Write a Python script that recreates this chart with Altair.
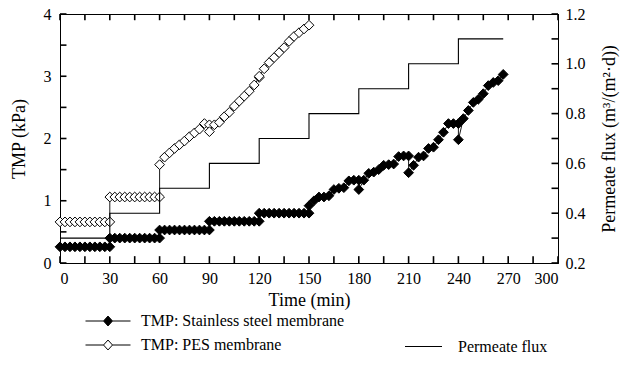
import altair as alt
import pandas as pd

FONT = "Liberation Serif"
W, H = 498, 249

# ---------------- data ----------------
steel_time = [0, 3, 6, 9, 12, 15, 18, 21, 24, 27, 30,
              30, 33, 36, 39, 42, 45, 48, 51, 54, 57, 60,
              60, 63, 66, 69, 72, 75, 78, 81, 84, 87, 90,
              90, 93, 96, 99, 102, 105, 108, 111, 114, 117, 120,
              120, 123, 126, 129, 132, 135, 138, 141, 144, 147, 150,
              150, 153, 156, 159, 162, 165, 168, 171, 174, 177, 180,
              180, 183, 186, 189, 192, 195, 198, 201, 204, 207, 210,
              210, 213, 216, 219, 222, 225, 228, 231, 234, 237, 240,
              240, 243, 246, 249, 252, 255, 258, 261, 264, 267]
steel_tmp = [0.26, 0.26, 0.26, 0.26, 0.26, 0.26, 0.26, 0.26, 0.26, 0.26, 0.26,
             0.40, 0.40, 0.40, 0.40, 0.40, 0.40, 0.40, 0.40, 0.40, 0.40, 0.40,
             0.53, 0.53, 0.53, 0.53, 0.53, 0.53, 0.53, 0.53, 0.53, 0.53, 0.53,
             0.67, 0.67, 0.67, 0.67, 0.67, 0.67, 0.67, 0.67, 0.67, 0.67, 0.67,
             0.80, 0.80, 0.80, 0.80, 0.80, 0.80, 0.80, 0.80, 0.80, 0.80, 0.80,
             0.92, 1.00, 1.06, 1.06, 1.08, 1.18, 1.20, 1.21, 1.32, 1.33, 1.33,
             1.18, 1.33, 1.44, 1.46, 1.50, 1.57, 1.58, 1.59, 1.71, 1.72, 1.72,
             1.45, 1.57, 1.70, 1.72, 1.84, 1.86, 1.98, 2.10, 2.24, 2.24, 2.24,
             1.98, 2.32, 2.45, 2.58, 2.63, 2.72, 2.85, 2.90, 2.93, 3.03]

pes_time = [0, 3, 6, 9, 12, 15, 18, 21, 24, 27, 30,
            30, 33, 36, 39, 42, 45, 48, 51, 54, 57, 60,
            60, 63, 66, 69, 72, 75, 78, 81, 84, 87, 90,
            90, 93, 96, 99, 102, 105, 108, 111, 114, 117, 120,
            120, 123, 126, 129, 132, 135, 138, 141, 144, 147, 150]
pes_tmp = [0.66, 0.66, 0.66, 0.66, 0.66, 0.66, 0.66, 0.66, 0.66, 0.66, 0.66,
           1.06, 1.06, 1.06, 1.06, 1.06, 1.06, 1.06, 1.06, 1.06, 1.06, 1.06,
           1.58, 1.70, 1.77, 1.84, 1.90, 1.96, 2.03, 2.09, 2.15, 2.24, 2.22,
           2.11, 2.22, 2.26, 2.35, 2.42, 2.52, 2.60, 2.68, 2.76, 2.86, 2.98,
           3.00, 3.12, 3.22, 3.30, 3.38, 3.46, 3.56, 3.64, 3.70, 3.76, 3.82]

flux_time = [0, 30, 60, 90, 120, 150, 180, 210, 240, 267]
flux_value = [0.3, 0.4, 0.5, 0.6, 0.7, 0.8, 0.9, 1.0, 1.1, 1.1]

series_names = ["TMP: Stainless steel membrane", "TMP: PES membrane"]
flux_name = "Permeate flux"

x_ticks = [0, 15, 30, 45, 60, 75, 90, 105, 120, 135, 150, 165, 180, 195, 210,
           225, 240, 255, 270, 285, 300]
x_labels = [0, 30, 60, 90, 120, 150, 180, 210, 240, 270, 300]
tmp_ticks = [0, 0.5, 1, 1.5, 2, 2.5, 3, 3.5, 4]
tmp_labels = [0, 1, 2, 3, 4]
flux_ticks = [0.2, 0.3, 0.4, 0.5, 0.6, 0.7, 0.8, 0.9, 1.0, 1.1, 1.2]
flux_labels = [0.2, 0.4, 0.6, 0.8, 1.0, 1.2]

# ---------------- frames ----------------
rows = []
for i, (t, v) in enumerate(zip(steel_time, steel_tmp)):
    rows.append({"t": t, "v": v, "series": series_names[0], "idx": i})
for i, (t, v) in enumerate(zip(pes_time, pes_tmp)):
    rows.append({"t": t, "v": v, "series": series_names[1], "idx": i})
tmp_df = pd.DataFrame(rows)
flux_df = pd.DataFrame({"t": flux_time, "f": flux_value,
                        "label": [flux_name] * len(flux_time)})
# tick-mark frames: tick positions from the lists above, short inward extents
xt_df = pd.DataFrame({"t": x_ticks,
                      "ya": [0.0] * len(x_ticks), "yb": [0.11] * len(x_ticks),
                      "yc": [4.0] * len(x_ticks), "yd": [3.9] * len(x_ticks)})
tt_df = pd.DataFrame({"v": tmp_ticks, "xa": [0.0] * len(tmp_ticks),
                      "xb": [3.9] * len(tmp_ticks)})
ft_df = pd.DataFrame({"f": flux_ticks, "xa": [300.0] * len(flux_ticks),
                      "xb": [296.1] * len(flux_ticks)})

x_scale = alt.Scale(domain=[0, 300], nice=False, zero=False)
y_scale = alt.Scale(domain=[0, 4], nice=False)
yf_scale = alt.Scale(domain=[0.2, 1.2], nice=False, zero=False)

base_axis = dict(labelFont=FONT, labelFontSize=16, labelColor="black",
                 titleFont=FONT, titleFontSize=18, titleFontWeight="normal",
                 titleColor="black", domainColor="black", domainWidth=1,
                 ticks=False, grid=False)

x_bottom = alt.Axis(orient="bottom", values=x_labels, title="Time (min)",
                    labelPadding=7, titlePadding=5, labelAngle=0, **base_axis)
y_left = alt.Axis(orient="left", values=tmp_labels, title="TMP (kPa)",
                  format=".0f", labelPadding=9, titlePadding=15, **base_axis)
y_right = alt.Axis(orient="right", values=flux_labels,
                   title="Permeate flux (m\u00b3/(m\u00b2\u00b7d))", format=".1f",
                   labelPadding=7, titlePadding=15, titleAngle=270,
                   titleBaseline="top", **base_axis)

tmp_lines = alt.Chart(tmp_df).mark_line(color="black", strokeWidth=0.9).encode(
    x=alt.X("t:Q", scale=x_scale, axis=x_bottom),
    y=alt.Y("v:Q", scale=y_scale, axis=y_left),
    detail="series:N",
    order="idx:Q",
)

tmp_points = alt.Chart(tmp_df).mark_point(
    shape="diamond", size=95, stroke="black", strokeWidth=1, opacity=1,
    filled=False,
).encode(
    x=alt.X("t:Q", scale=x_scale, axis=None),
    y=alt.Y("v:Q", scale=y_scale, axis=None),
    fill=alt.Fill("series:N",
                  scale=alt.Scale(domain=series_names, range=["black", "white"]),
                  legend=alt.Legend(
                      title=None, orient="none", legendX=40, legendY=299,
                      direction="vertical",
                      symbolType="M-5,0L-1,0M1,0L5,0M-1,0L0,-1.1L1,0L0,1.1Z",
                      symbolSize=81, symbolStrokeColor="black",
                      symbolStrokeWidth=1, symbolOpacity=1,
                      labelOffset=25, rowPadding=8, padding=0, labelLimit=400,
                      labelFont=FONT, labelFontSize=16, labelColor="black",
                  )),
)

flux_line = alt.Chart(flux_df).mark_line(
    interpolate="step-after", strokeWidth=1.1
).encode(
    x=alt.X("t:Q", scale=x_scale, axis=None),
    y=alt.Y("f:Q", scale=yf_scale, axis=y_right),
    stroke=alt.Stroke("label:N", scale=alt.Scale(range=["black"]),
                      legend=alt.Legend(
                          title=None, orient="none", legendX=344, legendY=313,
                          symbolType="stroke", symbolSize=1369,
                          symbolStrokeWidth=1.1, symbolStrokeColor="black",
                          labelOffset=15, padding=0, labelLimit=400,
                          labelFont=FONT, labelFontSize=16, labelColor="black",
                      )),
)

# inward tick marks on the frame, positioned entirely through the scales
tick_style = dict(color="black", strokeWidth=1.6, opacity=1)
xt_bottom = alt.Chart(xt_df).mark_rule(**tick_style).encode(
    x=alt.X("t:Q", scale=x_scale, axis=None),
    y=alt.Y("ya:Q", scale=y_scale, axis=None), y2="yb:Q")
xt_top = alt.Chart(xt_df).mark_rule(**tick_style).encode(
    x=alt.X("t:Q", scale=x_scale, axis=None),
    y=alt.Y("yc:Q", scale=y_scale, axis=None), y2="yd:Q")
tt_left = alt.Chart(tt_df).mark_rule(**tick_style).encode(
    y=alt.Y("v:Q", scale=y_scale, axis=None),
    x=alt.X("xa:Q", scale=x_scale, axis=None), x2="xb:Q")
ft_right = alt.Chart(ft_df).mark_rule(**tick_style).encode(
    y=alt.Y("f:Q", scale=yf_scale, axis=None),
    x=alt.X("xa:Q", scale=x_scale, axis=None), x2="xb:Q")

chart = alt.layer(
    xt_bottom, xt_top, tt_left, ft_right, tmp_lines, tmp_points, flux_line
).resolve_scale(
    y="independent"
).resolve_axis(
    x="independent", y="independent"
).properties(
    width=W, height=H,
    autosize=alt.AutoSizeParams(type="none"),
    padding={"left": 60, "top": 14, "right": 66, "bottom": 102},
    background="white",
).configure_view(stroke="black", strokeWidth=1)

chart.save("out.html", embed_options={"renderer": "svg", "actions": False})
